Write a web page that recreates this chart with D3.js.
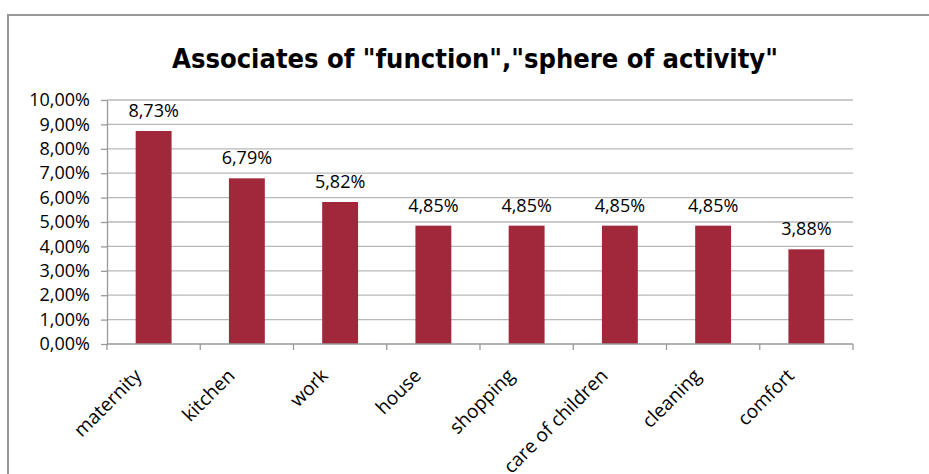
<!DOCTYPE html>
<html>
<head>
<meta charset="utf-8">
<script src="https://cdn.jsdelivr.net/npm/d3@7"></script>
<style>
  html, body { margin: 0; padding: 0; background: #fff; }
  svg { display: block; }
</style>
</head>
<body>
<div id="chart"></div>
<script>
// chart data
var categories = ["maternity", "kitchen", "work", "house", "shopping", "care of children", "cleaning", "comfort"];
var values = [8.73, 6.79, 5.82, 4.85, 4.85, 4.85, 4.85, 3.88];
var yTicks = [0, 1, 2, 3, 4, 5, 6, 7, 8, 9, 10];
var titleText = 'Associates of "function","sphere of activity"';

var width = 929, height = 474;
var margin = { left: 107, right: 76, top: 100, bottom: 130 };

const BAR_COLOR = "#A0283A";
const GRID_COLOR = "#B9B9B9";
const AXIS_COLOR = "#999999";
const LABEL_FONT = "'Open Sans', 'DejaVu Sans', sans-serif";
const TITLE_WIDTH = 606;

var fmt = v => v.toFixed(2).replace(".", ",") + "%";

const svg = d3.select("#chart")
  .append("svg")
  .attr("width", width)
  .attr("height", height);

// outer chart border
svg.append("rect")
  .attr("x", 8)
  .attr("y", 15)
  .attr("width", width + 10)
  .attr("height", height + 10)
  .attr("fill", "white")
  .attr("stroke", AXIS_COLOR)
  .attr("stroke-width", 2);

const title = svg.append("text")
  .attr("x", 475)
  .attr("y", 68)
  .attr("text-anchor", "middle")
  .style("font-family", "'DejaVu Sans Condensed', 'DejaVu Sans', sans-serif")
  .style("font-stretch", "condensed")
  .style("font-weight", "bold")
  .style("font-size", "28px")
  .text(titleText);

// fit the title to the reference width
var tl = title.node().getComputedTextLength();
if (tl > 0) title.style("font-size", (28 * TITLE_WIDTH / tl) + "px");

var x = d3.scaleBand()
  .domain(categories)
  .range([margin.left, width - margin.right])
  .paddingInner(0.615)
  .paddingOuter(0.3075);

var y = d3.scaleLinear()
  .domain([0, 10])
  .range([height - margin.bottom, margin.top]);

// gridlines
svg.append("g")
  .selectAll("line")
  .data(yTicks.slice(1))
  .join("line")
  .attr("x1", margin.left)
  .attr("x2", width - margin.right)
  .attr("y1", d => y(d))
  .attr("y2", d => y(d))
  .attr("stroke", GRID_COLOR)
  .attr("stroke-width", 1.3);

// y axis
const yAxis = svg.append("g")
  .attr("transform", `translate(${margin.left},0)`)
  .call(d3.axisLeft(y).tickValues(yTicks).tickFormat(fmt).tickSizeInner(6).tickSizeOuter(0).tickPadding(11));

// x axis with ticks between categories
var step = x.step();
var xBounds = d3.range(categories.length + 1).map(i => margin.left + i * step);

svg.append("g")
  .selectAll("line")
  .data(xBounds)
  .join("line")
  .attr("x1", d => d)
  .attr("x2", d => d)
  .attr("y1", y(0))
  .attr("y2", y(0) + 6)
  .attr("stroke", AXIS_COLOR)
  .attr("stroke-width", 1.3);

yAxis.selectAll("path, line").attr("stroke", AXIS_COLOR).attr("stroke-width", 1.3);
yAxis.selectAll("text")
  .style("font", "18px " + LABEL_FONT)
  .attr("fill", "#000");

// bars
svg.append("g")
  .selectAll("rect")
  .data(values)
  .join("rect")
  .attr("x", (d, i) => x(categories[i]))
  .attr("y", d => y(d))
  .attr("width", x.bandwidth())
  .attr("height", d => y(0) - y(d))
  .attr("fill", BAR_COLOR);

svg.append("line")
  .attr("x1", margin.left)
  .attr("x2", width - margin.right)
  .attr("y1", y(0))
  .attr("y2", y(0))
  .attr("stroke", AXIS_COLOR)
  .attr("stroke-width", 1.3);

// value labels
svg.append("g")
  .selectAll("text")
  .data(values)
  .join("text")
  .attr("x", (d, i) => x(categories[i]) + x.bandwidth() / 2)
  .attr("y", d => y(d) - 14)
  .attr("text-anchor", "middle")
  .style("font", "18px " + LABEL_FONT)
  .text(fmt);

// rotated category labels
svg.append("g")
  .selectAll("text")
  .data(categories)
  .join("text")
  .attr("transform", d => `translate(${x(d) + x.bandwidth() / 2 - 11},${y(0) + 33}) rotate(-45)`)
  .attr("text-anchor", "end")
  .style("font", "19px " + LABEL_FONT)
  .text(d => d);
</script>
</body>
</html>
